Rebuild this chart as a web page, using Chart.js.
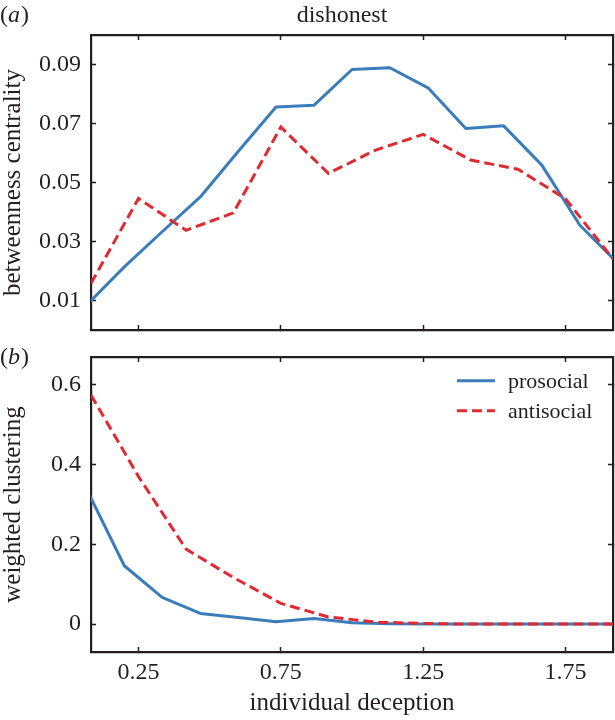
<!DOCTYPE html>
<html>
<head>
<meta charset="utf-8">
<script src="https://cdn.jsdelivr.net/npm/chart.js@4.4.1/dist/chart.umd.min.js"></script>
<style>
  html, body { margin: 0; padding: 0; background: #fff; }
  #wrap { position: relative; width: 615px; height: 720px; }
  canvas { position: absolute; left: 0; }
</style>
</head>
<body>
<div id="wrap">
  <canvas id="panelA" width="615" height="340" style="top:0"></canvas>
  <canvas id="panelB" width="615" height="380" style="top:340px"></canvas>
</div>
<script>
// values
var xTickValues = [0.25, 0.75, 1.25, 1.75];
var centralityTicks = [0.01, 0.03, 0.05, 0.07, 0.09];
var clusteringTicks = [0, 0.2, 0.4, 0.6];

var deceptionPro = [0.067, 0.2, 0.333, 0.467, 0.6, 0.733, 0.867, 1.0, 1.133, 1.267, 1.4, 1.533, 1.667, 1.8, 1.933];
var deceptionAnti = [0.083, 0.25, 0.417, 0.583, 0.75, 0.917, 1.083, 1.25, 1.417, 1.583, 1.75, 1.917];

var centralityPro = [0.0084, 0.0214, 0.0333, 0.0451, 0.0605, 0.0756, 0.0762, 0.0883, 0.0889, 0.0821, 0.0683, 0.0692, 0.0559, 0.0356, 0.0227];
var centralityAnti = [0.0158, 0.0446, 0.0338, 0.0397, 0.0688, 0.0531, 0.061, 0.0663, 0.0576, 0.0545, 0.0445, 0.0241];

var clusteringPro = [0.339, 0.1463, 0.067, 0.0268, 0.0168, 0.0058, 0.0143, 0.0033, 0.001, 0, 0, 0, 0, 0, 0];
var clusteringAnti = [0.5747, 0.37, 0.188, 0.117, 0.052, 0.018, 0.005, 0.0015, 0, 0, 0, 0];

var ink = '#231f20';
var blue = '#3b7dba';
var red = '#de2a30';
var serif = "'Liberation Serif', 'Times New Roman', serif";

function points(xs, ys) {
  return xs.map(function(x, i) { return {x: x, y: ys[i]}; });
}

function setTicks(values) {
  return function(scale) {
    scale.ticks = values.map(function(v) { return {value: v}; });
  };
}

function fixSize(prop, size) {
  return function(scale) {
    scale[prop] = size;
    scale.paddingTop = 0;
    scale.paddingBottom = 0;
    scale.paddingLeft = 0;
    scale.paddingRight = 0;
  };
}

function axis(position, min, max, tickValues, size, labels, fmt, title, titlePad) {
  var horizontal = position === 'top' || position === 'bottom';
  return {
    type: 'linear',
    position: position,
    display: true,
    min: min,
    max: max,
    bounds: 'data',
    afterBuildTicks: setTicks(tickValues),
    afterFit: fixSize(horizontal ? 'height' : 'width', size),
    border: { display: true, color: ink, width: 2.2 },
    grid: { drawOnChartArea: false, drawTicks: true, tickLength: -5, tickColor: ink, tickWidth: 1.5 },
    ticks: {
      display: labels,
      color: ink,
      padding: horizontal ? 11 : 15,
      font: { family: serif, size: 24 },
      callback: fmt
    },
    title: {
      display: !!title,
      text: title || '',
      color: ink,
      font: { family: serif, size: 25 },
      padding: titlePad || 0
    }
  };
}

function fmt2(v) { return v.toFixed(2); }
function fmtB(v) { return v === 0 ? '0' : v.toFixed(1); }

function datasets(proY, antiY) {
  return [
    {
      label: 'prosocial',
      data: points(deceptionPro, proY),
      borderColor: blue,
      borderWidth: 3,
      borderJoinStyle: 'round',
      pointRadius: 0,
      tension: 0,
      fill: false,
      clip: 0,
      order: 1
    },
    {
      label: 'antisocial',
      data: points(deceptionAnti, antiY),
      borderColor: red,
      borderWidth: 3,
      borderDash: [10, 5],
      pointRadius: 0,
      tension: 0,
      fill: false,
      clip: 0,
      order: 0
    }
  ];
}

// panel letters and title
var panelText = {
  id: 'panelText',
  afterDraw: function(chart, args, opts) {
    var ctx = chart.ctx;
    ctx.save();
    ctx.fillStyle = ink;
    ctx.textBaseline = 'alphabetic';
    if (opts.letter) {
      var x = 0;
      var y = opts.letterY;
      ctx.textAlign = 'left';
      ctx.font = '24px ' + serif;
      ctx.fillText('(', x, y);
      x += ctx.measureText('(').width;
      ctx.font = 'italic 24px ' + serif;
      ctx.fillText(opts.letter, x, y);
      x += ctx.measureText(opts.letter).width + 1;
      ctx.font = '24px ' + serif;
      ctx.fillText(')', x, y);
    }
    if (opts.title) {
      ctx.textAlign = 'center';
      ctx.font = '24px ' + serif;
      ctx.fillText(opts.title, opts.titleX, opts.titleY);
    }
    ctx.restore();
  }
};

// line-sample legend inside panel b
var lineLegend = {
  id: 'lineLegend',
  afterDatasetsDraw: function(chart, args, opts) {
    if (!opts.show) return;
    var ctx = chart.ctx;
    chart.data.datasets.forEach(function(ds, i) {
      var y = opts.top + i * opts.rowGap;
      ctx.save();
      ctx.strokeStyle = ds.borderColor;
      ctx.lineWidth = ds.borderWidth;
      ctx.setLineDash(ds.borderDash || []);
      ctx.beginPath();
      ctx.moveTo(opts.x, y);
      ctx.lineTo(opts.x + opts.sample, y);
      ctx.stroke();
      ctx.setLineDash([]);
      ctx.fillStyle = ink;
      ctx.font = '22px ' + serif;
      ctx.textAlign = 'left';
      ctx.textBaseline = 'middle';
      ctx.fillText(ds.label, opts.x + opts.sample + opts.gap, y + 1.5);
      ctx.restore();
    });
  }
};

new Chart(document.getElementById('panelA'), {
  type: 'line',
  data: { datasets: datasets(centralityPro, centralityAnti) },
  options: {
    responsive: false,
    animation: false,
    events: [],
    layout: { padding: { left: 0, top: 35, right: 2, bottom: 0 } },
    scales: {
      x: axis('bottom', 0.083, 1.917, xTickValues, 10, false, fmt2),
      xTop: axis('top', 0.083, 1.917, xTickValues, 0, false, fmt2),
      y: axis('left', 0, 0.1, centralityTicks, 91, true, fmt2, 'betweenness centrality', { top: -2, bottom: 0 }),
      yRight: axis('right', 0, 0.1, centralityTicks, 0, false, fmt2)
    },
    plugins: {
      legend: { display: false },
      tooltip: { enabled: false },
      panelText: { letter: 'a', letterY: 22, title: 'dishonest', titleX: 342, titleY: 22 },
      lineLegend: { show: false }
    }
  },
  plugins: [panelText, lineLegend]
});

new Chart(document.getElementById('panelB'), {
  type: 'line',
  data: { datasets: datasets(clusteringPro, clusteringAnti) },
  options: {
    responsive: false,
    animation: false,
    events: [],
    layout: { padding: { left: 0, top: 17, right: 2, bottom: 0 } },
    scales: {
      x: axis('bottom', 0.083, 1.917, xTickValues, 68, true, fmt2, 'individual deception', { top: 0, bottom: 1.4 }),
      xTop: axis('top', 0.083, 1.917, xTickValues, 0, false, fmt2),
      y: axis('left', -0.07, 0.67, clusteringTicks, 91, true, fmtB, 'weighted clustering', { top: -2, bottom: 0 }),
      yRight: axis('right', -0.07, 0.67, clusteringTicks, 0, false, fmtB)
    },
    plugins: {
      legend: { display: false },
      tooltip: { enabled: false },
      panelText: { letter: 'b', letterY: 24 },
      lineLegend: { show: true, x: 457, top: 40.7, rowGap: 30, sample: 38, gap: 13 }
    }
  },
  plugins: [panelText, lineLegend]
});
</script>
</body>
</html>
